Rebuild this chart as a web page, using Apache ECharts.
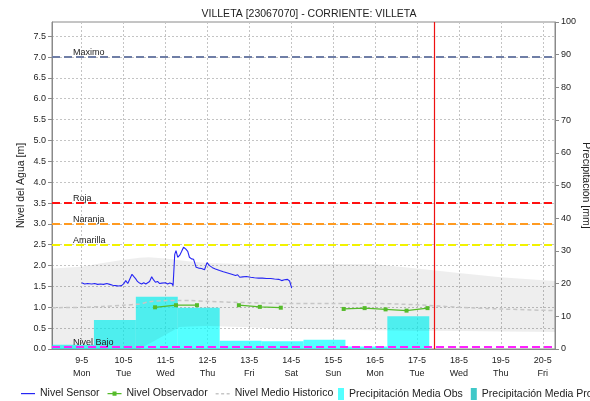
<!DOCTYPE html>
<html>
<head>
<meta charset="utf-8">
<script src="https://cdn.jsdelivr.net/npm/echarts@6/dist/echarts.min.js"></script>
<style>
  html, body { margin: 0; padding: 0; background: #fff; }
  #chart { width: 590px; height: 401px; }
</style>
</head>
<body>
<div id="chart"></div>
<script>
// Horizontal unit: days counted from 9-5 00:00 (Mon 9 May 2022).
const dayLabels = ['9-5', '10-5', '11-5', '12-5', '13-5', '14-5', '15-5', '16-5', '17-5', '18-5', '19-5', '20-5'];
const weekDays = ['Mon', 'Tue', 'Wed', 'Thu', 'Fri', 'Sat', 'Sun', 'Mon', 'Tue', 'Wed', 'Thu', 'Fri'];
const viewStart = -17 / 24;     // 8-5 07:00
const viewEnd = 11 + 7 / 24;    // 20-5 07:00

// Nivel Sensor [m]
const sensorT = [0.00, 0.07, 0.14, 0.24, 0.31, 0.38, 0.45, 0.52, 0.60, 0.67, 0.74, 0.81, 0.88, 0.95,
  1.00, 1.05, 1.10, 1.14, 1.20, 1.24, 1.29, 1.33, 1.38, 1.43, 1.48, 1.53, 1.57, 1.62, 1.67, 1.72,
  1.76, 1.81, 1.86, 1.91, 1.95, 2.00, 2.05, 2.10, 2.15, 2.18, 2.22, 2.25, 2.29, 2.34, 2.38, 2.43,
  2.48, 2.53, 2.57, 2.62, 2.67, 2.73, 2.79, 2.86, 2.93, 2.99, 3.05, 3.12, 3.19, 3.29, 3.38, 3.48,
  3.58, 3.67, 3.72, 3.77, 3.84, 3.93, 4.03, 4.12, 4.22, 4.31, 4.41, 4.51, 4.60, 4.70, 4.77, 4.84,
  4.91, 4.96, 5.01];
const sensorV = [1.59, 1.56, 1.57, 1.56, 1.57, 1.55, 1.56, 1.55, 1.57, 1.55, 1.53, 1.52, 1.51, 1.52,
  1.56, 1.64, 1.57, 1.60, 1.79, 1.74, 1.68, 1.62, 1.58, 1.56, 1.59, 1.56, 1.58, 1.62, 1.73, 1.65,
  1.60, 1.62, 1.57, 1.58, 1.55, 1.59, 1.56, 1.58, 1.57, 1.52, 2.27, 2.36, 2.20, 2.25, 2.33, 2.44,
  2.40, 2.34, 2.20, 2.16, 2.15, 1.96, 1.94, 1.93, 1.90, 2.07, 2.00, 1.95, 1.92, 1.88, 1.85, 1.82,
  1.79, 1.76, 1.78, 1.72, 1.73, 1.74, 1.72, 1.71, 1.70, 1.70, 1.69, 1.69, 1.68, 1.67, 1.64, 1.66,
  1.67, 1.63, 1.46];

// Nivel Observador [m] (null = no reading, breaks the line)
const obsT = [1.75, 2.25, 2.75, 3.25, 3.75, 4.25, 4.75, 5.50, 6.25, 6.75, 7.25, 7.75, 8.25];
const obsV = [1.00, 1.05, 1.05, null, 1.05, 1.01, 0.99, null, 0.96, 0.98, 0.95, 0.92, 0.98];

// Historical level: mean and range band [m]
const histT = [-0.71, 0.0, 0.5, 1.0, 1.38, 1.6, 2.0, 2.33, 2.6, 3.0, 4.0, 5.0, 6.0, 7.0, 8.0, 9.0, 10.0, 11.29];
const histMean = [0.99, 1.00, 1.02, 1.05, 1.08, 1.13, 1.16, 1.16, 1.16, 1.14, 1.11, 1.09, 1.09, 1.09, 1.06, 1.00, 0.96, 0.92];
const histLow = [0.00, 0.00, 0.00, 0.00, 0.00, 0.12, 0.34, 0.53, 0.54, 0.55, 0.52, 0.48, 0.46, 0.45, 0.44, 0.43, 0.42, 0.41];
const histHigh = [1.93, 1.97, 2.06, 2.14, 2.19, 2.20, 2.17, 2.13, 2.10, 2.06, 2.03, 2.02, 2.04, 2.03, 1.93, 1.82, 1.72, 1.63];

// Daily rainfall [mm], each day from 07:00 to 07:00
const rainStart = [-1.708, -0.708, 0.292, 1.292, 2.292, 3.292, 4.292, 5.292, 6.292, 7.292];
const rainObs = [4.3, 1.3, 8.9, 16.0, 12.6, 2.5, 2.4, 2.8, 0.8, 10.0];
const rainPro = [];

// Alert levels [m]
const alertNames = ['Maximo', 'Roja', 'Naranja', 'Amarilla', 'Nivel Bajo'];
const alertValues = [7.0, 3.5, 3.0, 2.5, 0.05];
const alertColors = ['#6f7ea6', '#ff1010', '#ff9a20', '#f2f200', '#ff20ff'];

const nowMark = 8.42;   // 17-5 ~10:00

const FONT = "'Liberation Sans', Arial, sans-serif";
const INK = '#222';

// Legend glyphs drawn inside a 14x11 box (the leading moves fix the box size)
const BOX = 'M0,0M14,11';
const ICON_LINE = 'path://' + BOX + 'M0,5H14V6.2H0Z';
const ICON_LINE_DOT = 'path://' + BOX + 'M0,5H14V6.2H0Z M5,3.4H9V7.8H5Z';
const ICON_DASH = 'path://' + BOX + 'M0,5H3V6.4H0Z M5.5,5H8.5V6.4H5.5Z M11,5H14V6.4H11Z';

const chart = echarts.init(document.getElementById('chart'), null, { renderer: 'canvas' });

function gridRect(params) {
  const cs = params.coordSys;
  return { x: cs.x, y: cs.y, width: cs.width, height: cs.height };
}

function rainRender(params, api) {
  const s = api.value(0), v = api.value(1);
  const p0 = api.coord([s, v]);
  const p1 = api.coord([s + 1, 0]);
  const shape = echarts.graphic.clipRectByRect(
    { x: p0[0], y: p0[1], width: p1[0] - p0[0], height: p1[1] - p0[1] }, gridRect(params));
  return shape && { type: 'rect', shape: shape, style: api.style() };
}

function bandRender(params, api) {
  if (params.dataIndex > 0) return null;
  const upper = histT.map((t, i) => api.coord([t, histHigh[i]]));
  const lower = histT.map((t, i) => api.coord([t, histLow[i]])).reverse();
  return {
    type: 'polygon',
    shape: { points: upper.concat(lower) },
    style: { fill: 'rgba(0,0,0,0.066)' },
    clipPath: { type: 'rect', shape: gridRect(params) }
  };
}

const option = {
  animation: false,
  textStyle: { fontFamily: FONT, color: INK },
  title: {
    text: 'VILLETA [23067070] - CORRIENTE: VILLETA',
    left: 304, top: 4, textAlign: 'center',
    textStyle: { fontFamily: FONT, fontSize: 10.5, fontWeight: 'normal', color: INK }
  },
  legend: [{
    left: 21, top: 388, width: 320, padding: 0, itemWidth: 14, itemHeight: 11, itemGap: 8,
    symbolKeepAspect: false,
    textStyle: { fontFamily: FONT, fontSize: 10.5, color: INK },
    data: [
      { name: 'Nivel Sensor', icon: ICON_LINE },
      { name: 'Nivel Observador', icon: ICON_LINE_DOT },
      { name: 'Nivel Medio Historico', icon: ICON_DASH }
    ]
  }, {
    left: 338, top: 388, width: 400, padding: 0, itemWidth: 6, itemHeight: 12, itemGap: 8,
    textStyle: { fontFamily: FONT, fontSize: 10.5, color: INK },
    data: [{ name: 'Precipitación Media Obs', icon: 'rect' }, { name: 'Precipitación Media Pro', icon: 'rect' }]
  }],
  grid: {
    left: 52, right: 35, top: 22, bottom: 52, outerBoundsMode: 'none', containLabel: false,
    show: true, borderColor: '#8a8a8a', borderWidth: 1, backgroundColor: '#fff'
  },
  xAxis: {
    type: 'value', min: viewStart, max: viewEnd,
    axisLine: { onZero: false, lineStyle: { color: '#8a8a8a' } },
    axisTick: { show: false, customValues: dayLabels.map((_, i) => i) },
    axisLabel: {
      customValues: dayLabels.map((_, i) => i),
      formatter: v => dayLabels[Math.round(v)] + '\n' + weekDays[Math.round(v)],
      fontSize: 9, lineHeight: 13, color: INK, margin: 5, fontFamily: FONT
    },
    splitLine: { show: true, lineStyle: { color: '#c4c4c4', type: [2, 2], width: 1 } }
  },
  yAxis: [{
    type: 'value', min: 0, max: 7.84, interval: 0.5,
    name: 'Nivel del Agua [m]', nameLocation: 'middle', nameGap: 31, nameRotate: 90, nameMoveOverlap: false,
    nameTextStyle: { fontFamily: FONT, fontSize: 10.5, color: INK, align: 'center', verticalAlign: 'middle' },
    axisLine: { show: true, onZero: false, lineStyle: { color: '#8a8a8a' } },
    axisTick: { show: true, length: 4, lineStyle: { color: '#8a8a8a' } },
    axisLabel: { formatter: v => v.toFixed(1), fontSize: 9, color: INK, margin: 6, showMaxLabel: false, fontFamily: FONT },
    splitLine: { show: true, lineStyle: { color: '#c4c4c4', type: [2, 2], width: 1 } }
  }, {
    type: 'value', min: 0, max: 100, interval: 10, position: 'right',
    name: 'Precipitación [mm]', nameLocation: 'middle', nameGap: 31, nameRotate: -90, nameMoveOverlap: false,
    nameTextStyle: { fontFamily: FONT, fontSize: 10.5, color: INK, align: 'center', verticalAlign: 'middle' },
    axisLine: { show: true, onZero: false, lineStyle: { color: '#8a8a8a' } },
    axisTick: { show: true, length: 4, lineStyle: { color: '#8a8a8a' } },
    axisLabel: { fontSize: 9, color: INK, margin: 6, fontFamily: FONT },
    splitLine: { show: false }
  }],
  series: [
    {
      name: 'Precipitación Media Obs', type: 'custom', yAxisIndex: 1,
      renderItem: rainRender, encode: { x: 0, y: 1 },
      itemStyle: { color: 'rgba(0,255,255,0.67)' },
      data: rainStart.map((s, i) => [s, rainObs[i]])
    },
    {
      name: 'Precipitación Media Pro', type: 'custom', yAxisIndex: 1,
      renderItem: rainRender, encode: { x: 0, y: 1 },
      itemStyle: { color: '#40c8c8' },
      data: rainPro.map(d => d)
    },
    {
      name: 'histBand', type: 'custom', silent: true,
      renderItem: bandRender, encode: { x: 0, y: 1 },
      data: [[histT[0], histLow[0]]]
    },
    {
      name: 'Nivel Medio Historico', type: 'line', symbol: 'none', smooth: 0.3,
      lineStyle: { color: '#c6c6c6', width: 1.5, type: [4, 3] },
      itemStyle: { color: '#c6c6c6' },
      data: histT.map((t, i) => [t, histMean[i]]),
      markLine: {
        silent: true, symbol: 'none', animation: false,
        data: alertValues.map((v, i) => ({
          yAxis: v,
          lineStyle: { color: alertColors[i], width: 2, type: [8, 4] },
          label: {
            show: true, formatter: alertNames[i], position: 'insideStartTop',
            distance: [21, 0], fontSize: 9, color: INK, fontFamily: FONT
          }
        })).concat([{
          xAxis: nowMark,
          lineStyle: { color: '#ee1111', width: 1.2, type: 'solid' },
          label: { show: false }
        }])
      }
    },
    {
      name: 'Nivel Sensor', type: 'line', symbol: 'none',
      lineStyle: { color: '#2626f4', width: 1.1 },
      itemStyle: { color: '#2626f4' },
      data: sensorT.map((t, i) => [t, sensorV[i]])
    },
    {
      name: 'Nivel Observador', type: 'line', symbol: 'rect', symbolSize: 4,
      lineStyle: { color: '#55bb2a', width: 1.3 },
      itemStyle: { color: '#55bb2a' },
      data: obsT.map((t, i) => [t, obsV[i]])
    }
  ]
};

chart.setOption(option);
</script>
</body>
</html>
